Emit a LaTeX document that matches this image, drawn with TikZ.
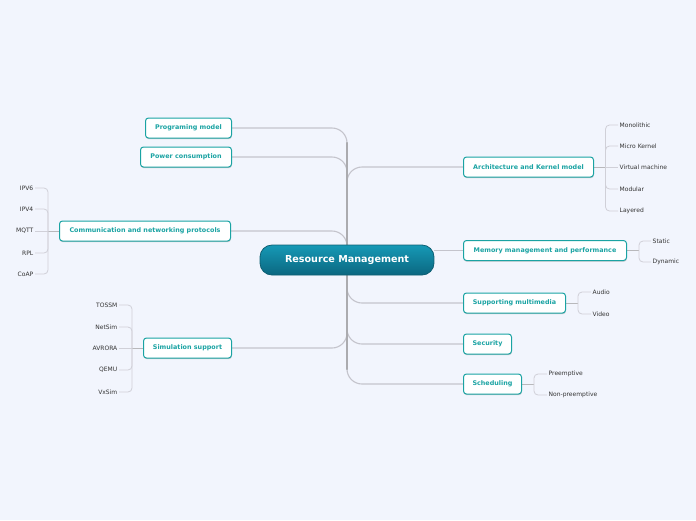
\documentclass[tikz,border=0pt]{standalone}
\usepackage{fontspec}
\setsansfont{DejaVu Sans}
\usepackage{tikz}
\usetikzlibrary{calc,shadows}
\definecolor{mapbg}   {HTML}{F2F5FD}
\definecolor{mapteal} {HTML}{1AA3A3}
\definecolor{hubtop}  {HTML}{1699B6}
\definecolor{hubbot}  {HTML}{0B6780}
\definecolor{hubline} {HTML}{0E5F73}
\definecolor{trunkgray}{HTML}{ABABAF}
\definecolor{branchgray}{HTML}{C4C4CC}
\definecolor{twiggray}{HTML}{D0D0D8}
\definecolor{leafink} {HTML}{333333}
\pgfdeclarelayer{bg}
\pgfdeclarelayer{links}
\pgfsetlayers{bg,links,main}

\begin{document}
\begin{tikzpicture}[x=1pt, y=-1pt,
  font=\sffamily,
  hub/.style   ={rounded corners=12pt, draw=hubline, line width=0.8pt,
                 top color=hubtop, bottom color=hubbot, text=white,
                 minimum width=174pt, minimum height=30pt,
                 font=\sffamily\bfseries\fontsize{9.6}{11}\selectfont},
  topic/.style ={draw=mapteal, fill=white, rounded corners=3pt, line width=1pt,
                 minimum height=20pt, inner sep=1pt, text=mapteal,
                 font=\sffamily\bfseries\fontsize{6.4}{7.5}\selectfont,
                 drop shadow={shadow xshift=0.3pt, shadow yshift=-1.2pt,
                              fill=black!45, opacity=.45}},
  leafl/.style ={anchor=east, inner sep=1.5pt, text=leafink,
                 font=\sffamily\fontsize{6}{7}\selectfont},
  leafr/.style ={leafl, anchor=west},
  branch/.style={draw=branchgray, line width=1.1pt, rounded corners=15pt},
  trunk/.style ={draw=trunkgray, line width=2.6pt, line cap=round},
  stem/.style  ={draw=trunkgray!85, line width=1pt},
  twig/.style  ={draw=twiggray, line width=0.8pt, rounded corners=4pt},
]
\useasboundingbox (0,0) rectangle (696,520);
\begin{pgfonlayer}{bg}
  \fill[mapbg] (0,0) rectangle (696,520);
\end{pgfonlayer}

% centre
\node[hub] (rm) at (347,260) {Resource Management};
\coordinate (hubc) at (347,260);

% left topics
\node[topic, anchor=east, minimum width=86pt]  (prog)  at (232,128) {Programing model};
\node[topic, anchor=east, minimum width=91pt]  (power) at (232,157) {Power consumption};
\node[topic, anchor=east, minimum width=171pt] (comm)  at (231,231) {Communication and networking protocols};
\node[topic, anchor=east, minimum width=88pt]  (sim)   at (232,348) {Simulation support};

% right topics
\node[topic, anchor=west, minimum width=130pt] (arch)  at (463,167) {Architecture and Kernel model};
\node[topic, anchor=west, minimum width=163pt] (mem)   at (463,250.5) {Memory management and performance};
\node[topic, anchor=west, minimum width=102pt] (media) at (463,303) {Supporting multimedia};
\node[topic, anchor=west, minimum width=48pt]  (sec)   at (463,344) {Security};
\node[topic, anchor=west, minimum width=58pt]  (sched) at (463,384) {Scheduling};

% leaves
\node[leafl] (ipv6) at (35,188) {IPV6};
\node[leafl] (ipv4) at (35,209) {IPV4};
\node[leafl] (mqtt) at (35,231) {MQTT};
\node[leafl] (rpl)  at (35,253) {RPL};
\node[leafl] (coap) at (35,274) {CoAP};

\node[leafl] (tossm)  at (119,305) {TOSSM};
\node[leafl] (netsim) at (119,327) {NetSim};
\node[leafl] (avrora) at (119,348) {AVRORA};
\node[leafl] (qemu)   at (119,370) {QEMU};
\node[leafl] (vxsim)  at (119,392) {VxSim};

\node[leafr] (mono)    at (618,125) {Monolithic};
\node[leafr] (micro)   at (618,146) {Micro Kernel};
\node[leafr] (vm)      at (618,167) {Virtual machine};
\node[leafr] (modular) at (618,189) {Modular};
\node[leafr] (layered) at (618,211) {Layered};

\node[leafr] (static)  at (651,241) {Static};
\node[leafr] (dynamic) at (651,262) {Dynamic};

\node[leafr] (audio) at (591,292) {Audio};
\node[leafr] (video) at (591,314) {Video};

\node[leafr] (pre)    at (547,374) {Preemptive};
\node[leafr] (nonpre) at (547,395) {Non-preemptive};

% bracket junctions
\coordinate (commj)  at (48,231);
\coordinate (simj)   at (132,348);
\coordinate (archj)  at (605.5,167);
\coordinate (memj)   at (639,250.5);
\coordinate (mediaj) at (578,303);
\coordinate (schedj) at (534,384);

\begin{pgfonlayer}{links}
  \draw[branch] (prog.east)  -| (hubc);
  \draw[branch] (power.east) -| (hubc);
  \draw[branch] (comm.east)  -| (hubc);
  \draw[branch] (sim.east)   -| (hubc);
  \draw[branch] (hubc) |- (arch.west);
  \draw[branch] (rm.east |- mem.west) -- (mem.west);
  \draw[branch] (hubc) |- (media.west);
  \draw[branch] (hubc) |- (sec.west);
  \draw[branch] (hubc) |- (sched.west);
  \draw[trunk] ($(hubc |- prog)+(0,15)$) -- ($(hubc |- sched)+(0,-15)$);

  \draw[stem] (comm.west) -- (commj);
  \draw[twig] (commj) |- (ipv6.east);
  \draw[twig] (commj) |- (ipv4.east);
  \draw[twig] (commj) -- (mqtt.east);
  \draw[twig] (commj) |- (rpl.east);
  \draw[twig] (commj) |- (coap.east);

  \draw[stem] (sim.west) -- (simj);
  \draw[twig] (simj) |- (tossm.east);
  \draw[twig] (simj) |- (netsim.east);
  \draw[twig] (simj) -- (avrora.east);
  \draw[twig] (simj) |- (qemu.east);
  \draw[twig] (simj) |- (vxsim.east);

  \draw[stem] (arch.east) -- (archj);
  \draw[twig] (archj) |- (mono.west);
  \draw[twig] (archj) |- (micro.west);
  \draw[twig] (archj) -- (vm.west);
  \draw[twig] (archj) |- (modular.west);
  \draw[twig] (archj) |- (layered.west);

  \draw[stem] (mem.east) -- (memj);
  \draw[twig] (memj) |- (static.west);
  \draw[twig] (memj) |- (dynamic.west);

  \draw[stem] (media.east) -- (mediaj);
  \draw[twig] (mediaj) |- (audio.west);
  \draw[twig] (mediaj) |- (video.west);

  \draw[stem] (sched.east) -- (schedj);
  \draw[twig] (schedj) |- (pre.west);
  \draw[twig] (schedj) |- (nonpre.west);
\end{pgfonlayer}

\end{tikzpicture}
\end{document}
